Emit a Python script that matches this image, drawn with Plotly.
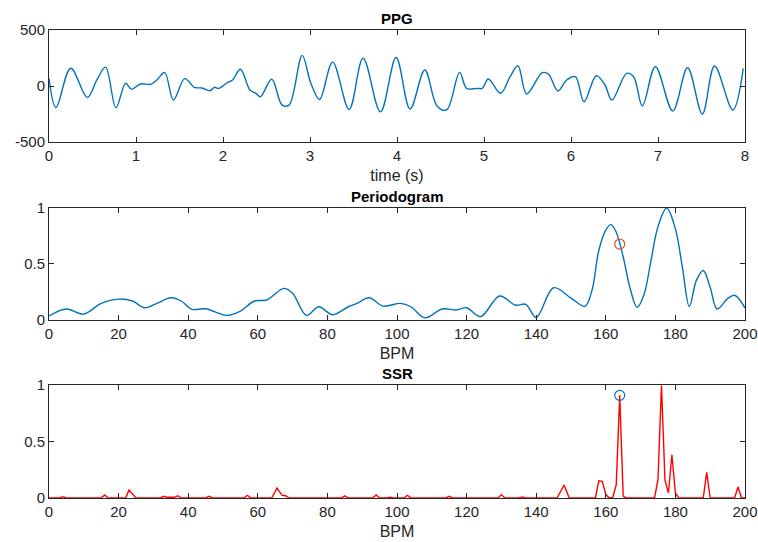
import plotly.graph_objects as go

# ── PPG signal (time in s, amplitude) ──────────────────────────────────────
ppg_t = [0.00, 0.08, 0.25, 0.44, 0.55, 0.65, 0.77, 0.88, 0.95, 1.05, 1.17,
         1.24, 1.33, 1.43, 1.56, 1.67, 1.76, 1.85, 1.90, 1.95, 2.05, 2.11,
         2.20, 2.31, 2.38, 2.43, 2.56, 2.68, 2.76, 2.91, 3.01, 3.11, 3.26,
         3.45, 3.61, 3.81, 3.99, 4.15, 4.32, 4.46, 4.57, 4.72, 4.80, 4.92,
         4.98, 5.05, 5.19, 5.30, 5.39, 5.49, 5.67, 5.74, 5.85, 5.95, 6.05,
         6.15, 6.29, 6.39, 6.47, 6.64, 6.72, 6.82, 6.97, 7.17, 7.34, 7.51,
         7.65, 7.86, 7.98]
ppg_v = [69, -192, 159, -102, 54, 168, -195, 24, -30, 18, 15,
         54, 120, -126, 66, -12, -18, -42, -12, -21, 30, 54,
         150, -36, -66, -96, 60, -171, -171, 273, 24, -120, 213,
         -210, 249, -231, 255, -205, 143, -178, -214, 122, -21, -21,
         -21, 62, -65, 83, 181, -71, 119, 107, -45, 53, 83,
         -140, 92, 9, -125, 113, 83, -178, 172, -223, 163, -250,
         178, -214, 157]

# ── Periodogram (BPM, normalised power) ───────────────────────────────────
per_bpm = [0, 5, 10, 15, 20, 24, 27.5, 31, 35, 38,
           41, 45, 51, 55, 59, 62.5, 67.5, 70, 74, 77.5,
           81.5, 86, 88.5, 92, 96, 101, 104, 108, 113, 117,
           120, 124, 129.5, 134, 137, 140, 145, 150, 154, 156,
           158, 160, 161.5, 163, 165, 167, 169, 171, 173, 175,
           177.5, 180, 182, 184, 186, 188, 190, 192, 195, 197,
           200]
per_val = [0.036, 0.098, 0.053, 0.148, 0.186, 0.169, 0.109, 0.148, 0.198, 0.169,
           0.095, 0.10, 0.041, 0.08, 0.169, 0.178, 0.281, 0.237, 0.041, 0.118,
           0.047, 0.118, 0.148, 0.198, 0.124, 0.148, 0.118, 0.02, 0.098, 0.089,
           0.109, 0.03, 0.213, 0.133, 0.139, 0.022, 0.287, 0.195, 0.122, 0.26,
           0.62, 0.80, 0.848, 0.78, 0.56, 0.28, 0.113, 0.23, 0.53, 0.83,
           0.995, 0.81, 0.47, 0.12, 0.35, 0.44, 0.29, 0.098, 0.19, 0.22,
           0.108]

# ── SSR spectrum (BPM, normalised) ────────────────────────────────────────
ssr_bpm = [0, 3, 4, 5, 15, 16, 17, 22, 23, 25,
           32, 33, 34, 35, 36, 37, 38, 45, 46, 47,
           56, 57, 58, 64, 65.5, 67, 68, 69, 84, 85,
           86, 93, 94, 95, 97, 98, 99, 102, 103, 104,
           114, 115, 116, 129, 130, 131, 135, 136, 137, 146,
           148, 149.5, 157, 158, 159, 160, 161, 162, 163, 164,
           165, 166, 174, 175, 176, 177, 178, 179, 180, 181,
           188, 189, 190, 197, 198, 199, 200]
ssr_val = [0, 0, 0.012, 0, 0, 0.027, 0, 0, 0.07, 0,
           0, 0.015, 0.006, 0.008, 0.006, 0.02, 0, 0, 0.015, 0,
           0, 0.024, 0, 0, 0.088, 0.024, 0.02, 0, 0, 0.02,
           0, 0, 0.027, 0, 0, 0.008, 0, 0, 0.024, 0,
           0, 0.015, 0, 0, 0.03, 0, 0, 0.01, 0, 0,
           0.115, 0, 0, 0.153, 0.147, 0.03, 0, 0.005, 0.118, 0.91,
           0.015, 0, 0, 0.162, 1.0, 0.16, 0.044, 0.383, 0.044, 0,
           0, 0.227, 0, 0, 0.097, 0, 0]

# estimated heart rate markers
est_bpm = [164]
est_per = [0.675]
est_ssr = [0.91]

BLUE = "#0072BD"
ORANGE = "#D95319"
AX = "#262626"
FONT = "Liberation Sans, Arial, Helvetica, sans-serif"

fig = go.Figure()
fig.add_trace(go.Scatter(x=ppg_t, y=ppg_v, mode="lines",
                         line=dict(color=BLUE, width=1.4, shape="spline", smoothing=1.0),
                         xaxis="x", yaxis="y"))
fig.add_trace(go.Scatter(x=per_bpm, y=per_val, mode="lines",
                         line=dict(color=BLUE, width=1.4, shape="spline", smoothing=1.0),
                         xaxis="x2", yaxis="y2"))
fig.add_trace(go.Scatter(x=est_bpm, y=est_per, mode="markers",
                         marker=dict(symbol="circle-open", size=10, color=ORANGE,
                                     line=dict(width=1.2)),
                         xaxis="x2", yaxis="y2"))
fig.add_trace(go.Scatter(x=ssr_bpm, y=ssr_val, mode="lines",
                         line=dict(color="#FF0000", width=1.4),
                         xaxis="x3", yaxis="y3"))
fig.add_trace(go.Scatter(x=est_bpm, y=est_ssr, mode="markers",
                         marker=dict(symbol="circle-open", size=10, color=BLUE,
                                     line=dict(width=1.2)),
                         xaxis="x3", yaxis="y3"))

axis_base = dict(showline=True, linecolor=AX, linewidth=1, mirror="ticks",
                 ticks="inside", ticklen=5, tickcolor=AX, showgrid=False,
                 zeroline=False, automargin=False,
                 tickfont=dict(size=15, color=AX, family=FONT))
xtitle_font = dict(size=16, color=AX, family=FONT)

fig.update_layout(
    width=758, height=542,
    margin=dict(l=49, r=13, t=29.5, b=43.7),
    paper_bgcolor="white", plot_bgcolor="white",
    showlegend=False,
    font=dict(family=FONT, color=AX),
    xaxis=dict(axis_base, domain=[0, 1], anchor="y", range=[0, 8], dtick=1,
               title=dict(text="time (s)", font=xtitle_font, standoff=6)),
    yaxis=dict(axis_base, domain=[0.7607, 1.0], anchor="x", range=[-500, 500],
               tickvals=[-500, 0, 500], ticktext=["-500", "0", "500"]),
    xaxis2=dict(axis_base, domain=[0, 1], anchor="y2", range=[0, 200], dtick=20,
                title=dict(text="BPM", font=xtitle_font, standoff=6)),
    yaxis2=dict(axis_base, domain=[0.3803, 0.6207], anchor="x2", range=[0, 1],
                tickvals=[0, 0.5, 1], ticktext=["0", "0.5", "1"]),
    xaxis3=dict(axis_base, domain=[0, 1], anchor="y3", range=[0, 200], dtick=20,
                title=dict(text="BPM", font=xtitle_font, standoff=6)),
    yaxis3=dict(axis_base, domain=[0, 0.241], anchor="x3", range=[0, 1],
                tickvals=[0, 0.5, 1], ticktext=["0", "0.5", "1"]),
)

for i, name in enumerate(["PPG", "Periodogram", "SSR"]):
    sfx = "" if i == 0 else str(i + 1)
    fig.add_annotation(text=f"<b>{name}</b>", x=0.5, y=1,
                       xref=f"x{sfx} domain", yref=f"y{sfx} domain",
                       xanchor="center", yanchor="bottom", yshift=1,
                       showarrow=False, font=dict(size=15, color="black", family=FONT))

# drop the default 8px page margin so the figure fills the window exactly
fig.write_html("out.html", config={"displayModeBar": False},
               post_script="document.body.style.margin='0px';document.body.style.overflow='hidden';")
